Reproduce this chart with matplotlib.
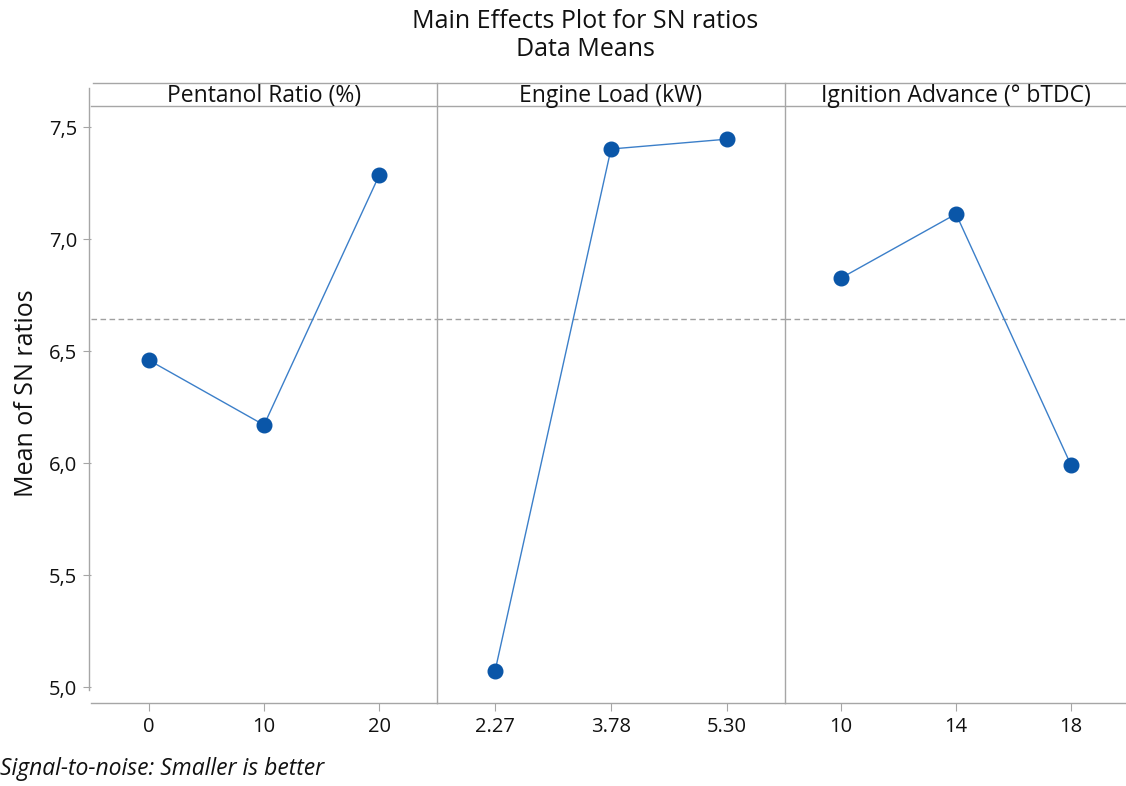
import matplotlib
matplotlib.use("Agg")
import matplotlib.pyplot as plt
from matplotlib.lines import Line2D
from matplotlib.ticker import FuncFormatter

plt.rcParams['font.family'] = ['Open Sans', 'DejaVu Sans']
plt.rcParams['font.weight'] = 'medium'

# ---- data ----
factors = ["Pentanol Ratio (%)", "Engine Load (kW)", "Ignition Advance (° bTDC)"]
levels = [["0", "10", "20"], ["2.27", "3.78", "5.30"], ["10", "14", "18"]]
pentanol_means = [6.46, 6.17, 7.286]
load_means = [5.071, 7.402, 7.446]
ignition_means = [6.826, 7.112, 5.991]
series = [pentanol_means, load_means, ignition_means]
grand_mean = 6.642
y_ticks = [5.0, 5.5, 6.0, 6.5, 7.0, 7.5]

W, H = 1126, 786
fig = plt.figure(figsize=(W / 100, H / 100), dpi=100)

def fx(px):
    return px / W

def fy(py):
    return 1 - py / H

grey = "#a6a6a6"
marker_c = "#0a56a8"
line_c = "#3b7fc9"
txt_c = "#111111"

bottom_px, top_px = 703, 106
panels = [(91, 437, (-0.5, 2.5)), (437, 785, (-0.5, 2.5)), (785, 1126, (-0.487, 2.478))]
ylim = (4.929, 7.594)

axes = []
for i, (l, r, xl) in enumerate(panels):
    ax = fig.add_axes([fx(l), fy(bottom_px), fx(r - l), fy(top_px) - fy(bottom_px)])
    xs = list(range(len(levels[i])))
    ax.plot(xs, series[i], color=line_c, lw=1.0, zorder=3)
    ax.plot(xs, series[i], 'o', color=marker_c, ms=10.5, zorder=4)
    ax.axhline(grand_mean, color="#a0a0a0", lw=1.0, ls=(0, (4, 2.5)), zorder=1)
    ax.set_xlim(*xl)
    ax.set_ylim(*ylim)
    ax.set_xticks(xs)
    ax.set_xticklabels(levels[i])
    for s in ["top", "right", "left"]:
        ax.spines[s].set_visible(False)
    ax.spines["bottom"].set_color(grey)
    ax.spines["bottom"].set_linewidth(1.0)
    ax.tick_params(axis="x", direction="out", length=6, color=grey, labelsize=14.5,
                   labelcolor=txt_c, pad=4)
    if i == 0:
        ax.set_yticks(y_ticks)
        ax.yaxis.set_major_formatter(FuncFormatter(lambda v, p: f"{v:.1f}".replace(".", ",")))
        ax.tick_params(axis="y", direction="out", length=6, color=grey, labelsize=14.5,
                       labelcolor=txt_c, pad=4)
    else:
        ax.set_yticks([])
    ax.patch.set_alpha(0)
    # strip label
    fig.text(fx(l) + (1 - xl[0]) / (xl[1] - xl[0]) * fx(r - l), fy(95.5), factors[i],
             ha="center", va="center", fontsize=16.5, color=txt_c)
    axes.append(ax)

# left spine (offset)
fig.add_artist(Line2D([fx(89), fx(89)], [fy(88), fy(690)], color=grey, lw=1.0))
# strip lines
fig.add_artist(Line2D([fx(93), fx(1126)], [fy(83), fy(83)], color=grey, lw=1.0))
fig.add_artist(Line2D([fx(91), fx(1126)], [fy(106), fy(106)], color=grey, lw=1.0))
# panel separators
for xp in [437, 785]:
    fig.add_artist(Line2D([fx(xp), fx(xp)], [fy(83), fy(703)], color=grey, lw=1.0))

fig.text(fx(585), fy(21), "Main Effects Plot for SN ratios", ha="center", va="center",
         fontsize=18, color=txt_c)
fig.text(fx(585), fy(49), "Data Means", ha="center", va="center", fontsize=18, color=txt_c)
fig.text(fx(27), fy(393), "Mean of SN ratios", ha="center", va="center", rotation=90,
         fontsize=18, color=txt_c)
fig.text(fx(0), fy(769), "Signal-to-noise: Smaller is better", ha="left", va="center",
         fontsize=16.5, style="italic", color=txt_c)

fig.savefig("out.png", dpi=100)
